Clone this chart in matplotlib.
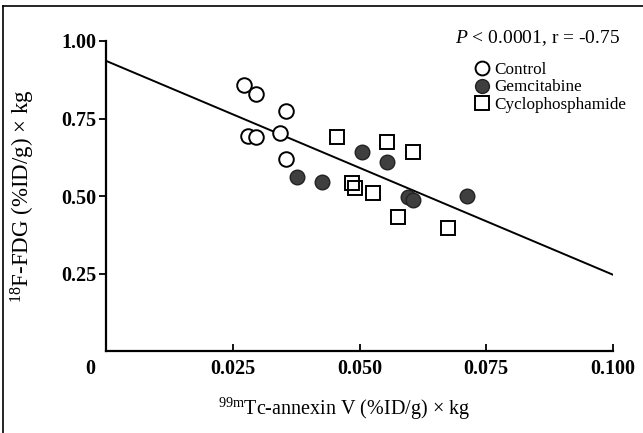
import matplotlib
matplotlib.use("Agg")
import matplotlib.pyplot as plt
from matplotlib.lines import Line2D
import numpy as np

# --- data ---
control_x = [0.0272, 0.0296, 0.0355, 0.0280, 0.0296, 0.0343, 0.0355]
control_y = [0.858, 0.829, 0.774, 0.694, 0.690, 0.703, 0.619]

gem_x = [0.0377, 0.0426, 0.0505, 0.0554, 0.0596, 0.0606, 0.0712]
gem_y = [0.561, 0.545, 0.642, 0.610, 0.497, 0.487, 0.500]

cyc_x = [0.0456, 0.0554, 0.0606, 0.0485, 0.0491, 0.0527, 0.0576, 0.0675]
cyc_y = [0.690, 0.674, 0.642, 0.542, 0.526, 0.510, 0.432, 0.397]

fit_intercept = 0.936
fit_slope = -6.9

x_ticks = [0.025, 0.050, 0.075, 0.100]
x_ticklabels = ["0.025", "0.050", "0.075", "0.100"]
y_ticks = [0.25, 0.50, 0.75, 1.00]
y_ticklabels = ["0.25", "0.50", "0.75", "1.00"]

plt.rcParams['font.family'] = ['Liberation Serif', 'DejaVu Serif']
plt.rcParams['mathtext.fontset'] = 'custom'
plt.rcParams['mathtext.rm'] = 'Liberation Serif'
plt.rcParams['mathtext.it'] = 'Liberation Serif:italic'

fig = plt.figure(figsize=(6.43, 4.33), dpi=100)
ax = fig.add_axes([106/643, 1 - 351/433, (613 - 106)/643, (351 - 41)/433])

# outer frame lines (left and top)
fig.add_artist(Line2D([3/643, 3/643], [0, 1 - 6/433], color='black', lw=1.2, transform=fig.transFigure))
fig.add_artist(Line2D([3/643, 1], [1 - 6/433, 1 - 6/433], color='black', lw=1.2, transform=fig.transFigure))

# regression line
lx = np.array([0.0, 0.100])
ax.plot(lx, fit_intercept + fit_slope * lx, color='black', lw=1.4, zorder=2)

ms = 10.5
ax.plot(control_x, control_y, 'o', ms=ms, mfc='white', mec='black', mew=1.4, zorder=3, label='Control')
ax.plot(gem_x, gem_y, 'o', ms=ms, mfc='#3f3f3f', mec='#222222', mew=1.0, zorder=3, label='Gemcitabine')
ax.plot(cyc_x, cyc_y, 's', ms=ms, mfc='white', mec='black', mew=1.4, zorder=3, label='Cyclophosphamide', fillstyle='none')

ax.set_xlim(0, 0.100)
ax.set_ylim(0, 1.00)
ax.spines['top'].set_visible(False)
ax.spines['right'].set_visible(False)
ax.spines['left'].set_linewidth(1.6)
ax.spines['bottom'].set_linewidth(1.6)

ax.set_xticks(x_ticks)
ax.set_xticklabels(x_ticklabels, fontweight='bold', fontsize=14.5)
ax.set_yticks(y_ticks)
ax.set_yticklabels(y_ticklabels, fontweight='bold', fontsize=14.5)
ax.tick_params(axis='x', direction='in', length=5, width=1.3, pad=6)
ax.tick_params(axis='y', direction='out', length=5, width=1.3, pad=2)

ax.text(-0.0022, -0.025, "0", transform=ax.transData, ha='right', va='top',
        fontweight='bold', fontsize=14.5, clip_on=False)

ax.set_xlabel(r"$^{\mathrm{99m}}$Tc-annexin V (%ID/g) × kg", fontsize=14.5, labelpad=12, x=0.469)
ax.set_ylabel(r"$^{\mathrm{18}}$F-FDG (%ID/g) × kg", fontsize=16.5, labelpad=17)

ax.text(1.014, 1.01, r"$P$ < 0.0001, r = -0.75", transform=ax.transAxes,
        ha='right', va='center', fontsize=14, clip_on=False)

leg = ax.legend(loc='upper left', bbox_to_anchor=(0.711, 0.955), frameon=False,
                fontsize=12.3, handletextpad=0.25, labelspacing=0.1, borderaxespad=0,
                handlelength=1.0, markerscale=0.95)

fig.savefig("out.png", dpi=100)
